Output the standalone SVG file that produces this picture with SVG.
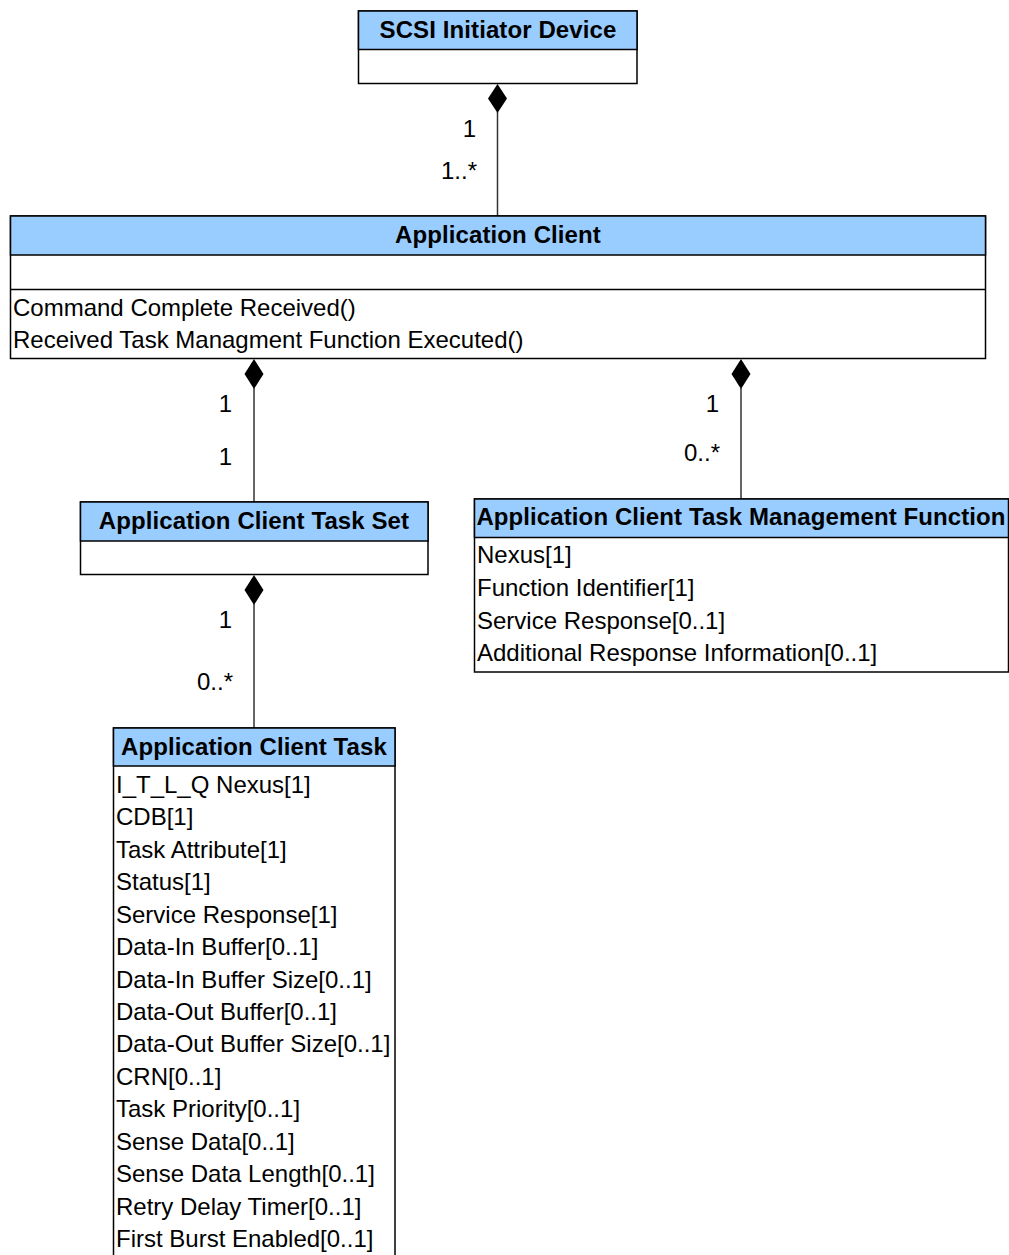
<svg xmlns="http://www.w3.org/2000/svg" width="1009" height="1255" viewBox="0 0 1009 1255">
<style>
.box{fill:#fff;stroke:#000;stroke-width:1.5}
.hdr{fill:#99ccff;stroke:#000;stroke-width:1.5}
.sep{stroke:#000;stroke-width:1.5}
.t{font-family:"Liberation Sans",Arial,sans-serif;font-size:24px;fill:#000}
.b{font-weight:bold;text-anchor:middle;letter-spacing:0.1px}
.m{text-anchor:end}
.c{stroke:#333;stroke-width:1.5;fill:none}
.d{fill:#000}
</style>
<rect width="1009" height="1255" fill="#fff"/>
<g id="connectors">
<line class="c" x1="497.5" y1="112" x2="497.5" y2="216"/>
<path class="d" d="M497.5 84 L507 98.5 L497.5 113 L488 98.5 Z"/>
<text class="t m" x="476" y="137">1</text>
<text class="t m" x="477" y="179">1..*</text>
<line class="c" x1="254" y1="388" x2="254" y2="502"/>
<path class="d" d="M254 359 L263.5 374 L254 389 L244.5 374 Z"/>
<text class="t m" x="232" y="412">1</text>
<text class="t m" x="232" y="465">1</text>
<line class="c" x1="741" y1="388" x2="741" y2="499"/>
<path class="d" d="M741 359 L750.5 374 L741 389 L731.5 374 Z"/>
<text class="t m" x="719" y="412">1</text>
<text class="t m" x="720" y="461">0..*</text>
<line class="c" x1="254" y1="604" x2="254" y2="728"/>
<path class="d" d="M254 575 L263.5 590 L254 605 L244.5 590 Z"/>
<text class="t m" x="232" y="628">1</text>
<text class="t m" x="233" y="690">0..*</text>
</g>
<g id="scsi-initiator-device">
<rect class="box" x="358.5" y="11" width="278.5" height="72.5"/>
<rect class="hdr" x="358.5" y="11" width="278.5" height="38.5"/>
<text class="t b" x="498" y="38">SCSI Initiator Device</text>
</g>
<g id="application-client">
<rect class="box" x="10.5" y="216" width="975" height="142.5"/>
<rect class="hdr" x="10.5" y="216" width="975" height="39"/>
<line class="sep" x1="10.5" y1="289.5" x2="985.5" y2="289.5"/>
<text class="t b" x="498" y="243">Application Client</text>
<text class="t" x="13" y="316">Command Complete Received()</text>
<text class="t" x="13" y="348">Received Task Managment Function Executed()</text>
</g>
<g id="application-client-task-set">
<rect class="box" x="80.5" y="502" width="347.5" height="72.5"/>
<rect class="hdr" x="80.5" y="502" width="347.5" height="39"/>
<text class="t b" x="254" y="529">Application Client Task Set</text>
</g>
<g id="application-client-task-management-function">
<rect class="box" x="474.5" y="499" width="534" height="173"/>
<rect class="hdr" x="474.5" y="499" width="534" height="38.5"/>
<text class="t b" x="741" y="525">Application Client Task Management Function</text>
<text class="t" x="477" y="563">Nexus[1]</text>
<text class="t" x="477" y="596">Function Identifier[1]</text>
<text class="t" x="477" y="629">Service Response[0..1]</text>
<text class="t" x="477" y="661">Additional Response Information[0..1]</text>
</g>
<g id="application-client-task">
<rect class="box" x="113.5" y="728" width="281.5" height="540"/>
<rect class="hdr" x="113.5" y="728" width="281.5" height="38"/>
<text class="t b" x="254" y="755">Application Client Task</text>
<text class="t" x="116" y="793">I_T_L_Q Nexus[1]</text>
<text class="t" x="116" y="825.4">CDB[1]</text>
<text class="t" x="116" y="857.9">Task Attribute[1]</text>
<text class="t" x="116" y="890.3">Status[1]</text>
<text class="t" x="116" y="922.7">Service Response[1]</text>
<text class="t" x="116" y="955.1">Data-In Buffer[0..1]</text>
<text class="t" x="116" y="987.6">Data-In Buffer Size[0..1]</text>
<text class="t" x="116" y="1020">Data-Out Buffer[0..1]</text>
<text class="t" x="116" y="1052.4">Data-Out Buffer Size[0..1]</text>
<text class="t" x="116" y="1084.9">CRN[0..1]</text>
<text class="t" x="116" y="1117.3">Task Priority[0..1]</text>
<text class="t" x="116" y="1149.7">Sense Data[0..1]</text>
<text class="t" x="116" y="1182.1">Sense Data Length[0..1]</text>
<text class="t" x="116" y="1214.6">Retry Delay Timer[0..1]</text>
<text class="t" x="116" y="1247">First Burst Enabled[0..1]</text>
</g>
</svg>
